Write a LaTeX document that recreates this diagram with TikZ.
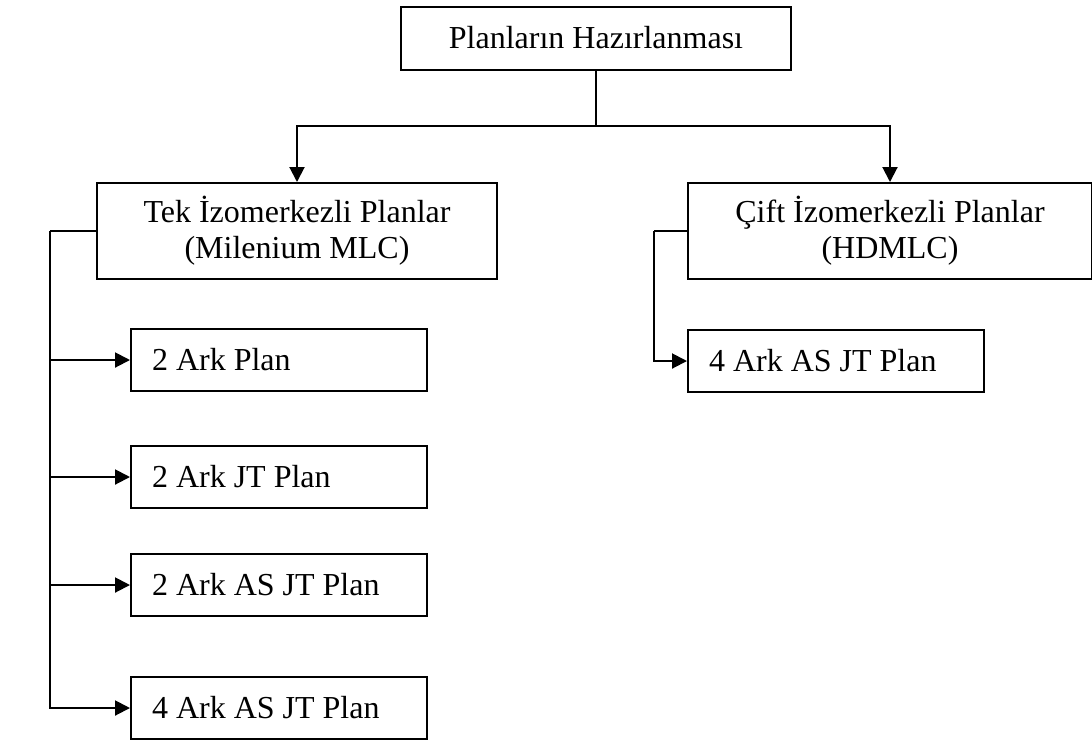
\documentclass[tikz,border=0pt]{standalone}
\usepackage{fontspec}
\setmainfont{Liberation Serif}
\usepackage{tikz}
\usetikzlibrary{arrows.meta}

\begin{document}
\begin{tikzpicture}[x=0.5pt, y=-0.5pt,
	box/.style={draw, line width=1pt, align=center, font=\fontsize{16}{18}\selectfont},
	planbox/.style={box, align=flush left, text width=127pt, inner xsep=10.5pt, minimum height=31pt},
	arr/.style={line width=1pt, -{Triangle[length=7.5pt, width=7.5pt]}}]
	\useasboundingbox (0,0) rectangle (1092,746);
	\node[box, minimum width=195pt, minimum height=31.5pt] (hazir) at (596,38) {Planların Hazırlanması};
	\node[box, minimum width=200pt, minimum height=48pt] (tek) at (297,231) {Tek İzomerkezli Planlar\\(Milenium MLC)};
	\node[box, minimum width=202pt, minimum height=48pt] (cift) at (890,231) {Çift İzomerkezli Planlar\\(HDMLC)};
	\node[planbox] (ark2) at (279,360) {2 Ark Plan};
	\node[planbox] (ark2jt) at (279,477) {2 Ark JT Plan};
	\node[planbox] (ark2as) at (279,585) {2 Ark AS JT Plan};
	\node[planbox] (ark4as) at (279,708) {4 Ark AS JT Plan};
	\node[planbox] (hdark4) at (836,361) {4 Ark AS JT Plan};
	\coordinate (dal) at (596,126);
	\coordinate (solhat) at (50,231);
	\coordinate (saghat) at (654,231);
	\draw[line width=1pt] (hazir) -- (dal);
	\draw[arr] (dal) -| (tek);
	\draw[arr] (dal) -| (cift);
	\draw[line width=1pt] (tek) -- (solhat);
	\draw[arr] (solhat) |- (ark4as);
	\draw[arr] (solhat |- ark2.west) -- (ark2);
	\draw[arr] (solhat |- ark2jt.west) -- (ark2jt);
	\draw[arr] (solhat |- ark2as.west) -- (ark2as);
	\draw[line width=1pt] (cift) -- (saghat);
	\draw[arr] (saghat) |- (hdark4);
\end{tikzpicture}
\end{document}
